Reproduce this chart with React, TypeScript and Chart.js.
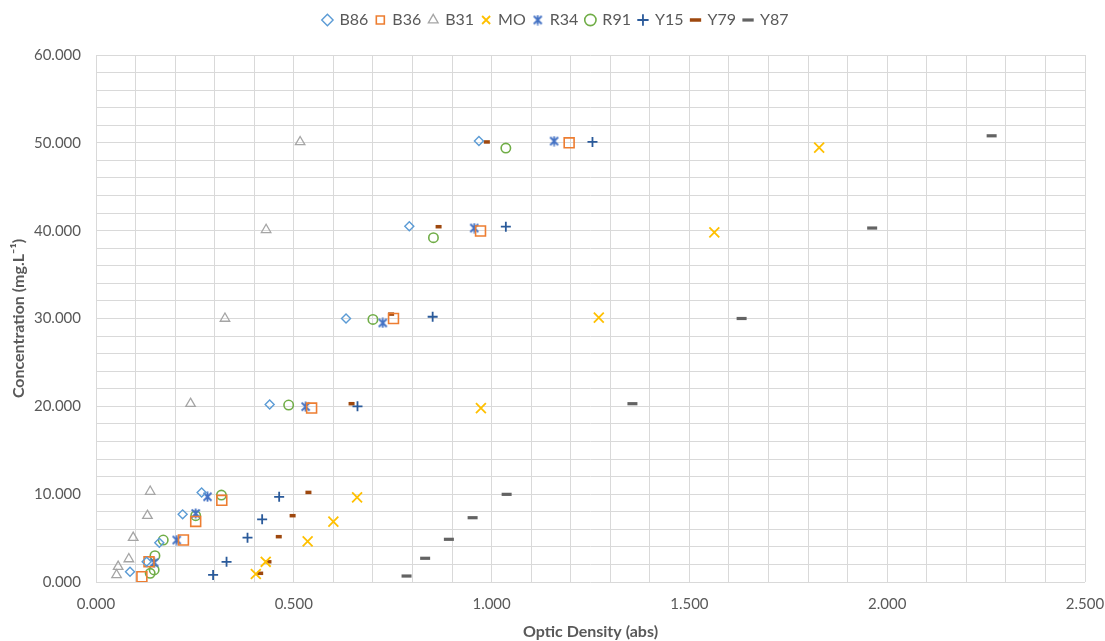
import React, { useEffect, useRef } from "react";
import { Chart, registerables } from "chart.js";
Chart.register(...registerables);

// ---- data ----
const seriesNames = ["B86", "B36", "B31", "MO", "R34", "R91", "Y15", "Y79", "Y87"];

const b86X = [0.086, 0.128, 0.160, 0.219, 0.267, 0.439, 0.632, 0.792, 0.968];
const b86Y = [1.17, 2.3, 4.48, 7.7, 10.2, 20.2, 30.0, 40.5, 50.2];

const b36X = [0.116, 0.134, 0.221, 0.252, 0.318, 0.545, 0.752, 0.972, 1.196];
const b36Y = [0.6, 2.3, 4.78, 6.9, 9.3, 19.8, 30.0, 39.96, 50.0];

const b31X = [0.052, 0.056, 0.083, 0.094, 0.130, 0.137, 0.239, 0.326, 0.430, 0.516];
const b31Y = [0.8, 1.75, 2.62, 5.05, 7.55, 10.3, 20.3, 30.0, 40.1, 50.1];

const moX = [0.404, 0.429, 0.535, 0.600, 0.660, 0.973, 1.271, 1.563, 1.828];
const moY = [0.91, 2.3, 4.63, 6.87, 9.64, 19.8, 30.1, 39.8, 49.45];

const r34X = [0.147, 0.204, 0.252, 0.282, 0.530, 0.725, 0.956, 1.158];
const r34Y = [2.2, 4.78, 7.8, 9.7, 19.96, 29.5, 40.3, 50.2];

const r91X = [0.137, 0.147, 0.149, 0.170, 0.252, 0.317, 0.487, 0.700, 0.853, 1.036];
const r91Y = [0.99, 1.37, 3.0, 4.78, 7.55, 9.9, 20.15, 29.9, 39.2, 49.4];

const y15X = [0.296, 0.330, 0.383, 0.420, 0.463, 0.661, 0.851, 1.036, 1.255];
const y15Y = [0.8, 2.3, 5.05, 7.14, 9.7, 20.0, 30.2, 40.45, 50.1];

const y79X = [0.415, 0.436, 0.462, 0.497, 0.537, 0.646, 0.746, 0.866, 0.988];
const y79Y = [0.99, 2.3, 5.16, 7.55, 10.2, 20.3, 30.5, 40.45, 50.1];

const y87X = [0.785, 0.832, 0.892, 0.952, 1.038, 1.356, 1.632, 1.962, 2.264];
const y87Y = [0.68, 2.7, 4.86, 7.32, 9.98, 20.3, 30.0, 40.3, 50.8];

const xMin = 0, xMax = 2.5, xGridStep = 0.1, xLabelStep = 0.5;
const yMin = 0, yMax = 60, yGridStep = 2, yLabelStep = 10;
const xTitle = "Optic Density (abs)";
const yTitle = "Concentration (mg.L\u207B\u00B9)";

const colors = {
  B86: "#5B9BD5", B36: "#ED7D31", B31: "#A5A5A5", MO: "#FFC000", R34: "#4472C4",
  R91: "#70AD47", Y15: "#2A5A9A", Y79: "#9E480E", Y87: "#636363",
};

function makeAsterisk(color: string, size: number, lw: number) {
  const c = document.createElement("canvas");
  c.width = size; c.height = size;
  const ctx = c.getContext("2d")!;
  ctx.strokeStyle = color;
  ctx.lineWidth = lw;
  ctx.lineCap = "butt";
  const m = 1.5;
  ctx.beginPath();
  ctx.moveTo(m, m); ctx.lineTo(size - m, size - m);
  ctx.moveTo(size - m, m); ctx.lineTo(m, size - m);
  ctx.moveTo(size / 2, 0.5); ctx.lineTo(size / 2, size - 0.5);
  ctx.stroke();
  return c;
}

const isMultiple = (v: number, step: number) => Math.abs(v / step - Math.round(v / step)) < 1e-6;

export default function App() {
  const ref = useRef<HTMLCanvasElement>(null);
  useEffect(() => {
    if (!ref.current) return;
    const star = makeAsterisk(colors.R34, 11, 1.8);
    const pts = (xs: number[], ys: number[]) => xs.map((x, i) => ({ x, y: ys[i] }));
    const mk = (label: string, xs: number[], ys: number[], style: any, radius: number, bw: number) => {
      const color = (colors as any)[label];
      return {
        label,
        data: pts(xs, ys),
        pointStyle: style,
        pointRadius: radius,
        pointHoverRadius: radius,
        pointBorderWidth: bw,
        pointBorderColor: color,
        pointBackgroundColor: "rgba(0,0,0,0)",
        borderColor: color,
        backgroundColor: "rgba(0,0,0,0)",
        borderWidth: bw,
        showLine: false,
      };
    };
    const datasets = [
      mk(seriesNames[0], b86X, b86Y, "rectRot", 4.5, 1.4),
      mk(seriesNames[1], b36X, b36Y, "rect", 7, 1.6),
      mk(seriesNames[2], b31X, b31Y, "triangle", 5.5, 1.3),
      mk(seriesNames[3], moX, moY, "crossRot", 7, 1.8),
      mk(seriesNames[4], r34X, r34Y, star, 5, 1.8),
      mk(seriesNames[5], r91X, r91Y, "circle", 4.7, 1.6),
      mk(seriesNames[6], y15X, y15Y, "cross", 5, 1.8),
      mk(seriesNames[7], y79X, y79Y, "line", 3, 3.5),
      mk(seriesNames[8], y87X, y87Y, "line", 5, 3.2),
    ];

    const legendFix = {
      id: "legendFix",
      afterInit(chart: any) {
        const lg = chart.legend;
        if (lg && !lg.__patched) {
          const orig = lg.fit.bind(lg);
          lg.fit = function () { orig(); this.height = 51; };
          lg.__patched = true;
        }
      },
    };

    const textColor = "#595959";
    const grid = "#D9D9D9";
    const chart = new Chart(ref.current, {
      type: "scatter",
      data: { datasets: datasets as any },
      plugins: [legendFix],
      options: {
        animation: false,
        responsive: false,
        devicePixelRatio: 1,
        layout: { padding: { left: 27, right: 20, top: 4, bottom: 0 } },
        font: { family: "Lato" },
        plugins: {
          tooltip: { enabled: false },
          legend: {
            position: "top",
            labels: {
              usePointStyle: true,
              boxWidth: 8,
              boxHeight: 8,
              padding: 8,
              color: textColor,
              font: { family: "Lato", size: 16 },
            },
          },
        },
        scales: {
          x: {
            type: "linear",
            min: xMin,
            max: xMax,
            border: { display: false },
            grid: { color: grid, lineWidth: 1, drawTicks: false },
            ticks: {
              stepSize: xGridStep,
              autoSkip: false,
              maxRotation: 0,
              padding: 13,
              color: textColor,
              font: { family: "Lato", size: 15 },
              callback: (v: any) => (isMultiple(Number(v), xLabelStep) ? Number(v).toFixed(3) : ""),
            },
            title: {
              display: true,
              text: xTitle,
              color: textColor,
              font: { family: "Lato", size: 16, weight: "bold" },
              padding: { top: 0, bottom: 0 },
            },
            afterFit: (s: any) => { s.height = 59; s.paddingLeft = 0; s.paddingRight = 0; },
          },
          y: {
            type: "linear",
            min: yMin,
            max: yMax,
            border: { display: false },
            grid: { color: grid, lineWidth: 1, drawTicks: false },
            ticks: {
              stepSize: yGridStep,
              autoSkip: false,
              padding: 15,
              color: textColor,
              font: { family: "Lato", size: 15 },
              callback: (v: any) => (isMultiple(Number(v), yLabelStep) ? Number(v).toFixed(3) : ""),
            },
            title: {
              display: true,
              text: yTitle,
              color: textColor,
              font: { family: "Lato", size: 16, weight: "bold" },
              padding: { top: -18, bottom: 0 },
            },
            afterFit: (s: any) => { s.width = 69; s.paddingTop = 0; s.paddingBottom = 0; },
          },
        },
      } as any,
    });
    return () => chart.destroy();
  }, []);
  return (
    <div style={{ position: "fixed", left: 0, top: 0, width: 1105, height: 641, background: "#fff" }}>
      <canvas ref={ref} width={1105} height={641} style={{ display: "block" }} />
    </div>
  );
}
